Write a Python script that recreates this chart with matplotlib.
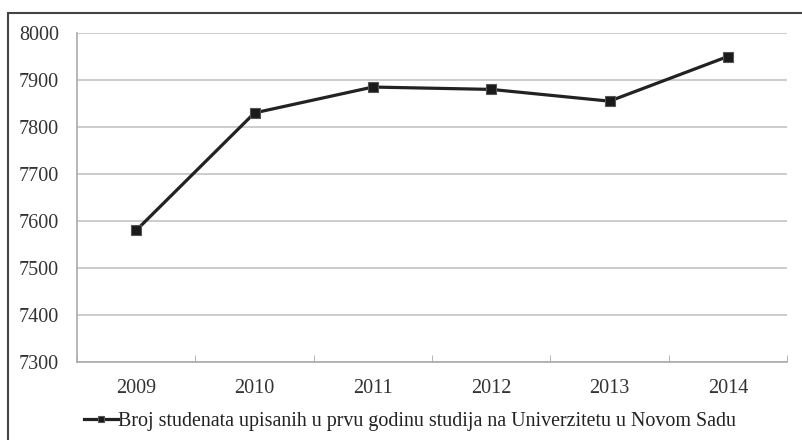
import matplotlib.pyplot as plt
from matplotlib.patches import Rectangle

# Podaci
godine = ['2009', '2010', '2011', '2012', '2013', '2014']
broj_studenata = [7580, 7830, 7885, 7880, 7855, 7950]
oznaka = 'Broj studenata upisanih u prvu godinu studija na Univerzitetu u Novom Sadu'

plt.rcParams['font.family'] = ['Liberation Serif', 'DejaVu Serif']

W, H = 802, 440
fig = plt.figure(figsize=(W / 100, H / 100), dpi=100)
ax = fig.add_axes([77 / W, 1 - 362 / H, 710 / W, 329 / H])

x = list(range(len(godine)))
ax.plot(x, broj_studenata, color='#222222', linewidth=2.3, marker='s',
        markersize=6.5, markerfacecolor='#1a1a1a', markeredgecolor='#555555',
        markeredgewidth=0.8, label=oznaka)

ax.set_xlim(-0.5, len(godine) - 0.5)
ax.set_ylim(7300, 8000)
ax.set_yticks(range(7300, 8001, 100))
ax.yaxis.grid(True, color='#c4c4c4', linewidth=1.2)
ax.set_axisbelow(True)

# Oznake kategorija centrirane, podeoci izmedju kategorija
ax.set_xticks(x)
ax.set_xticklabels(godine)
ax.set_xticks([i - 0.5 for i in range(len(godine) + 1)], minor=True)
ax.tick_params(axis='x', which='major', length=0, pad=12)
ax.tick_params(axis='x', which='minor', length=5, direction='in', color='#aaaaaa')
ax.tick_params(axis='y', length=0, pad=13)
ax.tick_params(labelsize=14.5, labelcolor='#333333')

for s in ['top', 'right']:
    ax.spines[s].set_visible(False)
for s in ['left', 'bottom']:
    ax.spines[s].set_color('#aaaaaa')
    ax.spines[s].set_linewidth(1.2)

leg = fig.legend(loc='center', bbox_to_anchor=(410 / W, 1 - 421 / H), frameon=False,
                 fontsize=14.4, handlelength=1.7, handletextpad=0.0, markerscale=0.7,
                 labelcolor='#222222')

# Okvir oko cele slike
fig.patches.append(Rectangle((8 / W, -0.1), 1.2, 1 - 13 / H + 0.1, transform=fig.transFigure,
                             fill=False, edgecolor='#444444', linewidth=1.5))

fig.savefig('out.png', dpi=100)
